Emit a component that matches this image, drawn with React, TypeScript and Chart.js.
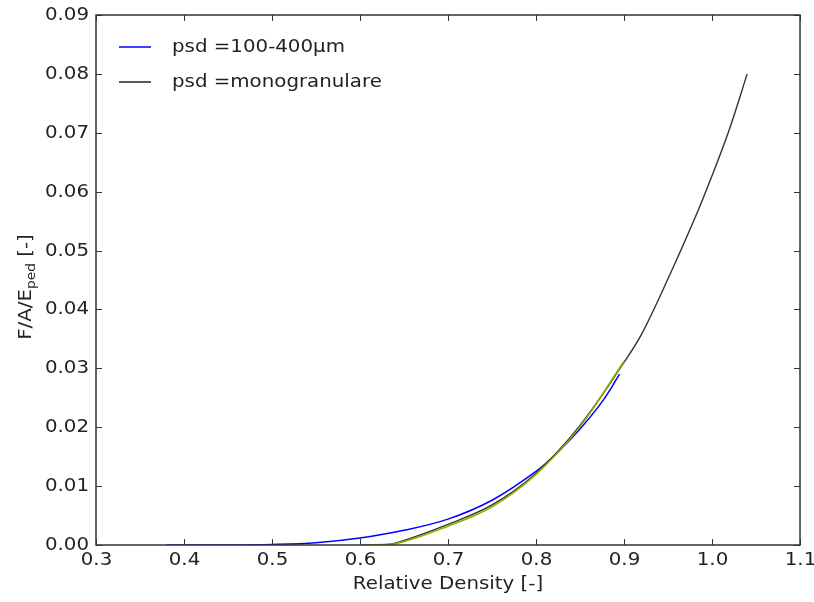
import React, { useEffect, useRef } from "react";
import { Chart, registerables } from "chart.js";

Chart.register(...registerables);

// ---- data ----
const blueX = [0.38, 0.45, 0.5, 0.55, 0.6, 0.65, 0.7, 0.75, 0.8, 0.825, 0.85, 0.875, 0.895];
const blueY = [0.0, 0.0, 0.0001, 0.0004, 0.0012, 0.0025, 0.0044, 0.0076, 0.0125, 0.0158, 0.0197, 0.0243, 0.029];

const greenX = [0.6, 0.64, 0.7, 0.75, 0.8, 0.85, 0.9];
const greenY = [0.0, 0.0002, 0.0032, 0.0065, 0.012, 0.0201, 0.0312];

const blackX = [0.62, 0.64, 0.7, 0.75, 0.8, 0.85, 0.9, 0.92, 0.95, 0.98, 1.0, 1.02, 1.04];
const blackY = [0.0, 0.0003, 0.0035, 0.0068, 0.0122, 0.0203, 0.031, 0.0358, 0.0452, 0.0553, 0.0627, 0.0707, 0.08];

const xTicks = [0.3, 0.4, 0.5, 0.6, 0.7, 0.8, 0.9, 1.0, 1.1];
const xTickLabels = ["0.3", "0.4", "0.5", "0.6", "0.7", "0.8", "0.9", "1.0", "1.1"];
const yTicks = [0, 0.01, 0.02, 0.03, 0.04, 0.05, 0.06, 0.07, 0.08, 0.09];
const yTickLabels = ["0.00", "0.01", "0.02", "0.03", "0.04", "0.05", "0.06", "0.07", "0.08", "0.09"];

const legendLabels = ["psd =100-400\u00b5m", "psd =monogranulare"];
const xTitle = "Relative Density [-]";
const yTitleMain = "F/A/E";
const yTitleSub = "ped";
const yTitleTail = " [-]";

const FONT = "'DejaVu Sans', sans-serif";
const STRETCH = 1.1;
const TEXT = "#222";
const FS = 18;

function pts(xs: number[], ys: number[]) {
  return xs.map((x, i) => ({ x, y: ys[i] }));
}

function drawText(
  ctx: CanvasRenderingContext2D,
  text: string,
  x: number,
  y: number,
  size: number,
  align: "left" | "right" | "center"
) {
  ctx.save();
  ctx.font = `${size}px ${FONT}`;
  ctx.fillStyle = TEXT;
  ctx.textBaseline = "middle";
  ctx.textAlign = "left";
  const w = ctx.measureText(text).width * STRETCH;
  let sx = x;
  if (align === "right") sx = x - w;
  else if (align === "center") sx = x - w / 2;
  ctx.translate(sx, y);
  ctx.scale(STRETCH, 1);
  ctx.fillText(text, 0, 0);
  ctx.restore();
}

function textW(ctx: CanvasRenderingContext2D, text: string, size: number) {
  ctx.font = `${size}px ${FONT}`;
  return ctx.measureText(text).width * STRETCH;
}

const decorPlugin = {
  id: "decor",
  afterDraw(chart: any) {
    const ctx: CanvasRenderingContext2D = chart.ctx;
    const { left, right, top, bottom } = chart.chartArea;
    const xs = chart.scales.x;
    const ys = chart.scales.y;
    ctx.save();
    ctx.strokeStyle = "#333";
    ctx.lineWidth = 1.5;
    ctx.strokeRect(left, top, right - left, bottom - top);
    ctx.lineWidth = 1;
    const tl = 6;
    xTicks.forEach((v, i) => {
      const px = Math.round(xs.getPixelForValue(v)) + 0.5;
      ctx.beginPath();
      ctx.moveTo(px, bottom);
      ctx.lineTo(px, bottom - tl);
      ctx.moveTo(px, top);
      ctx.lineTo(px, top + tl);
      ctx.stroke();
      drawText(ctx, xTickLabels[i], px, bottom + 15, FS, "center");
    });
    yTicks.forEach((v, i) => {
      const py = Math.round(ys.getPixelForValue(v)) + 0.5;
      ctx.beginPath();
      ctx.moveTo(left, py);
      ctx.lineTo(left + tl, py);
      ctx.moveTo(right, py);
      ctx.lineTo(right - tl, py);
      ctx.stroke();
      drawText(ctx, yTickLabels[i], left - 7, py, FS, "right");
    });
    // x title
    drawText(ctx, xTitle, (left + right) / 2, bottom + 39, FS, "center");
    // y title rotated
    ctx.save();
    ctx.translate(26, 287);
    ctx.rotate(-Math.PI / 2);
    const w1 = textW(ctx, yTitleMain, FS);
    const w2 = textW(ctx, yTitleSub, 12.5);
    const w3 = textW(ctx, yTitleTail, FS);
    const total = w1 + w2 + w3;
    let cx = -total / 2;
    drawText(ctx, yTitleMain, cx, 0, FS, "left");
    cx += w1;
    drawText(ctx, yTitleSub, cx, 6, 12.5, "left");
    cx += w2;
    drawText(ctx, yTitleTail, cx, 0, FS, "left");
    ctx.restore();
    // legend
    const colors = ["#0000ff", "#222222"];
    const rowsY = [47, 82];
    legendLabels.forEach((lab, i) => {
      ctx.strokeStyle = colors[i];
      ctx.lineWidth = 1.5;
      ctx.beginPath();
      ctx.moveTo(119, rowsY[i]);
      ctx.lineTo(151, rowsY[i]);
      ctx.stroke();
      drawText(ctx, lab, 172, rowsY[i], FS, "left");
    });
    ctx.restore();
  },
};

export default function App() {
  const ref = useRef<HTMLCanvasElement | null>(null);
  useEffect(() => {
    if (!ref.current) return;
    const chart = new Chart(ref.current, {
      type: "line",
      data: {
        datasets: [
          {
            label: "fit",
            data: pts(greenX, greenY),
            borderColor: "#8db000",
            borderWidth: 1.6,
            pointRadius: 0,
            tension: 0.35,
          },
          {
            label: legendLabels[1],
            data: pts(blackX, blackY),
            borderColor: "#333333",
            borderWidth: 1.4,
            pointRadius: 0,
            tension: 0.35,
          },
          {
            label: legendLabels[0],
            data: pts(blueX, blueY),
            borderColor: "#0000ff",
            borderWidth: 1.5,
            pointRadius: 0,
            tension: 0.35,
          },
        ],
      },
      options: {
        animation: false,
        responsive: true,
        maintainAspectRatio: false,
        layout: { padding: { top: 15, right: 14, left: 0, bottom: 0 } },
        plugins: { legend: { display: false }, tooltip: { enabled: false } },
        scales: {
          x: {
            type: "linear",
            min: 0.3,
            max: 1.1,
            ticks: { display: false, stepSize: 0.1 },
            grid: { display: false },
            border: { display: false },
            afterFit: (s: any) => {
              s.height = 57;
            },
          },
          y: {
            type: "linear",
            min: 0,
            max: 0.09,
            ticks: { display: false, stepSize: 0.01 },
            grid: { display: false },
            border: { display: false },
            afterFit: (s: any) => {
              s.width = 96;
            },
          },
        },
      },
      plugins: [decorPlugin],
    } as any);
    return () => chart.destroy();
  }, []);
  return (
    <div style={{ position: "absolute", left: 0, top: 0, width: 814, height: 602, background: "#fff" }}>
      <canvas ref={ref} />
    </div>
  );
}
